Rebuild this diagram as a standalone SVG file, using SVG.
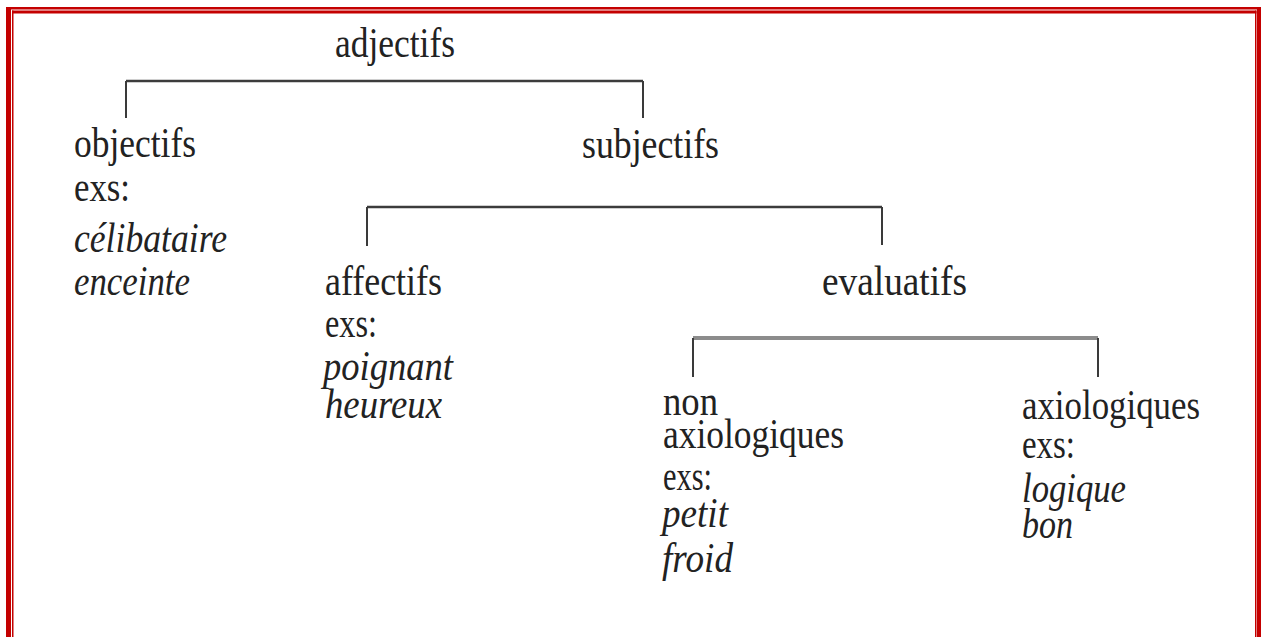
<svg xmlns="http://www.w3.org/2000/svg" width="1267" height="637" viewBox="0 0 1267 637">
<style>
.t{font-family:"Liberation Serif","Times New Roman",serif;font-size:42px;fill:#222;}
.i{font-style:italic;}
.frame{fill:#c40000;}
.h{fill:none;stroke:#3c3c3c;stroke-width:2.5;}
.v{fill:none;stroke:#3a3a3a;stroke-width:2;}
</style>
<rect width="1267" height="637" fill="#ffffff"/>
<g id="frame">
<rect class="frame" x="6" y="7" width="5" height="640"/>
<rect class="frame" x="6" y="7" width="1255" height="2.5"/>
<rect class="frame" x="1257" y="7" width="4" height="640"/>
<rect class="frame" x="12" y="10.5" width="1.5" height="630"/>
<rect class="frame" x="12" y="10.5" width="1244.5" height="3"/>
<rect class="frame" x="1255" y="10.5" width="1.5" height="630"/>
</g>
<g id="connectors">
<path class="h" d="M126 81 H643"/>
<path class="v" d="M126 81 V118 M643 81 V118"/>
<path class="h" d="M367 207 H882" stroke="#505050"/>
<path class="v" d="M367 207 V246 M882 207 V245"/>
<path class="h" d="M693 338 H1098" style="stroke:#8c8c8c;stroke-width:4"/>
<path class="v" d="M693 338 V377 M1098 338 V377"/>
</g>
<g id="adjectifs"><text class="t" x="335" y="57" textLength="120" lengthAdjust="spacingAndGlyphs">adjectifs</text></g>
<g id="objectifs">
<text class="t" x="74" y="157" textLength="122" lengthAdjust="spacingAndGlyphs">objectifs</text>
<text class="t" x="74" y="201" textLength="56" lengthAdjust="spacingAndGlyphs">exs:</text>
<text class="t i" x="74" y="252" textLength="153" lengthAdjust="spacingAndGlyphs">célibataire</text>
<text class="t i" x="74" y="295" textLength="116" lengthAdjust="spacingAndGlyphs">enceinte</text>
</g>
<g id="subjectifs"><text class="t" x="582" y="158" textLength="137" lengthAdjust="spacingAndGlyphs">subjectifs</text></g>
<g id="affectifs">
<text class="t" x="325" y="295" textLength="117" lengthAdjust="spacingAndGlyphs">affectifs</text>
<text class="t" x="325" y="337" textLength="52" lengthAdjust="spacingAndGlyphs">exs:</text>
<text class="t i" x="323" y="380" textLength="130" lengthAdjust="spacingAndGlyphs">poignant</text>
<text class="t i" x="325" y="418" textLength="117" lengthAdjust="spacingAndGlyphs">heureux</text>
</g>
<g id="evaluatifs"><text class="t" x="822" y="295" textLength="145" lengthAdjust="spacingAndGlyphs">evaluatifs</text></g>
<g id="non-axiologiques">
<text class="t" x="663" y="415" textLength="55" lengthAdjust="spacingAndGlyphs">non</text>
<text class="t" x="663" y="448" textLength="181" lengthAdjust="spacingAndGlyphs">axiologiques</text>
<text class="t" x="663" y="490" textLength="49" lengthAdjust="spacingAndGlyphs">exs:</text>
<text class="t i" x="662" y="527" textLength="66" lengthAdjust="spacingAndGlyphs">petit</text>
<text class="t i" x="662" y="572" textLength="71" lengthAdjust="spacingAndGlyphs">froid</text>
</g>
<g id="axiologiques">
<text class="t" x="1022" y="419" textLength="178" lengthAdjust="spacingAndGlyphs">axiologiques</text>
<text class="t" x="1022" y="458" textLength="53" lengthAdjust="spacingAndGlyphs">exs:</text>
<text class="t i" x="1022" y="502" textLength="104" lengthAdjust="spacingAndGlyphs">logique</text>
<text class="t i" x="1022" y="538" textLength="51" lengthAdjust="spacingAndGlyphs">bon</text>
</g>
</svg>
